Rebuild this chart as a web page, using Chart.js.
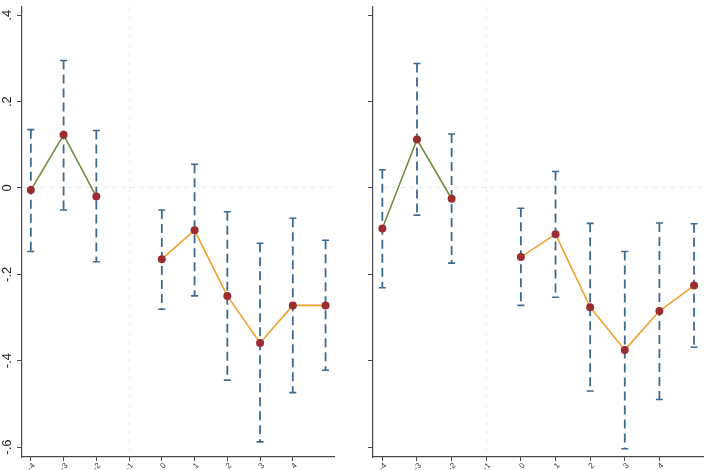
<!DOCTYPE html>
<html><head><meta charset="utf-8">
<script src="https://cdn.jsdelivr.net/npm/chart.js@4.4.1/dist/chart.umd.min.js"></script>
<style>
html,body{margin:0;padding:0;background:#fff;overflow:hidden;width:709px;height:470px;}
.box{position:absolute;top:0;height:471px;}
#b1{left:0;width:340px;}
#b2{left:348px;width:361px;}
</style></head><body>
<div class="box" id="b1"><canvas id="c1"></canvas></div>
<div class="box" id="b2"><canvas id="c2"></canvas></div>
<script>
// ---- categories / ticks ----
const preX = [-4, -3, -2];
const postX = [0, 1, 2, 3, 4, 5];
const xTickValues = [-4, -3, -2, -1, 0, 1, 2, 3, 4];
const yTickValues = [-0.6, -0.4, -0.2, 0, 0.2, 0.4];
const yTickLabels = ['-.6', '-.4', '-.2', '0', '.2', '.4'];
const refX = -1;
const refY = 0;

// ---- panel 1 (left) ----
const p1PreEst  = [-0.005, 0.123, -0.020];
const p1PreHi   = [0.135, 0.295, 0.133];
const p1PreLo   = [-0.147, -0.051, -0.171];
const p1PostEst = [-0.165, -0.098, -0.250, -0.359, -0.272, -0.272];
const p1PostHi  = [-0.051, 0.055, -0.055, -0.128, -0.070, -0.121];
const p1PostLo  = [-0.281, -0.250, -0.445, -0.588, -0.474, -0.422];

// ---- panel 2 (right) ----
const p2PreEst  = [-0.094, 0.112, -0.025];
const p2PreHi   = [0.042, 0.288, 0.125];
const p2PreLo   = [-0.231, -0.063, -0.174];
const p2PostEst = [-0.160, -0.107, -0.276, -0.375, -0.285, -0.226];
const p2PostHi  = [-0.047, 0.038, -0.082, -0.147, -0.081, -0.083];
const p2PostLo  = [-0.272, -0.253, -0.470, -0.604, -0.490, -0.369];

const GREEN = '#6f8f3e', ORANGE = '#f0a02c', RED = '#9b2d30', BLUE = '#3e6991';
const AXIS = '#4a4a4a', REF = '#e9e9e9', NONE = 'rgba(0,0,0,0)';
const FONT = '"Liberation Sans", Arial, sans-serif';

const pts = (xs, v) => xs.map((x, i) => ({x, y: v[i]}));
const whisk = (xs, lo, hi) => xs.flatMap((x, i) => [{x, y: hi[i]}, {x, y: lo[i]}, {x, y: null}]);
const caps = (xs, lo, hi) => xs.flatMap((x, i) => [{x, y: hi[i]}, {x, y: lo[i]}]);

function build(id, preEst, preLo, preHi, postEst, postLo, postHi, showYLabels, yWidth) {
  const allX = preX.concat(postX);
  const allLo = preLo.concat(postLo);
  const allHi = preHi.concat(postHi);
  new Chart(document.getElementById(id), {
    type: 'scatter',
    data: { datasets: [
      { data: pts(preX, preEst), showLine: true, borderColor: GREEN, borderWidth: 1.6,
        pointRadius: 4, pointBackgroundColor: RED, pointBorderWidth: 0, order: 0 },
      { data: pts(postX, postEst), showLine: true, borderColor: ORANGE, borderWidth: 1.6,
        pointRadius: 4, pointBackgroundColor: RED, pointBorderWidth: 0, order: 0 },
      { data: whisk(allX, allLo, allHi), showLine: true, spanGaps: false, borderColor: BLUE,
        borderWidth: 1.8, borderDash: [9, 5], pointRadius: 0, order: 2 },
      { data: caps(allX, allLo, allHi), showLine: false, pointStyle: 'line', pointRadius: 3.5,
        pointBorderColor: BLUE, pointBorderWidth: 1.6, order: 2 }
    ]},
    options: {
      responsive: true, maintainAspectRatio: false, animation: false, events: [],
      layout: { padding: { top: 7, right: 3, left: 0, bottom: 0 } },
      plugins: { legend: { display: false }, tooltip: { enabled: false } },
      scales: {
        x: {
          type: 'linear', min: -4.27, max: 5.27,
          afterBuildTicks: s => { s.ticks = xTickValues.map(v => ({value: v})); },
          afterFit: s => { s.height = 14; s.paddingLeft = 0; s.paddingRight = 0; },
          ticks: { callback: v => String(v), minRotation: 45, maxRotation: 45, autoSkip: false,
                   font: { size: 8, family: FONT }, color: '#333', padding: 0, labelOffset: 3 },
          grid: { color: c => (c.tick && c.tick.value === refX) ? REF : NONE, lineWidth: 1,
                  tickColor: AXIS, tickLength: 4, tickWidth: 1 },
          border: { color: AXIS, width: 1.2, dash: [5, 4] }
        },
        y: {
          min: -0.623, max: 0.419,
          afterBuildTicks: s => { s.ticks = yTickValues.map(v => ({value: v})); },
          afterFit: s => { s.width = yWidth; s.paddingTop = 0; s.paddingBottom = 0; },
          ticks: { display: showYLabels, autoSkip: false,
                   callback: v => { const i = yTickValues.findIndex(t => Math.abs(t - v) < 1e-9); return i >= 0 ? yTickLabels[i] : ''; },
                   minRotation: 90, maxRotation: 90, crossAlign: 'center',
                   font: { size: 13, family: FONT }, color: '#222', padding: 2 },
          grid: { color: c => (c.tick && Math.abs(c.tick.value - refY) < 1e-9) ? REF : NONE, lineWidth: 1,
                  tickColor: AXIS, tickLength: 5, tickWidth: 1 },
          border: { color: AXIS, width: 1.2, dash: [5, 4] }
        }
      }
    }
  });
}

build('c1', p1PreEst, p1PreLo, p1PreHi, p1PostEst, p1PostLo, p1PostHi, true, 22);
build('c2', p2PreEst, p2PreLo, p2PreHi, p2PostEst, p2PostLo, p2PostHi, false, 25);
</script>
</body></html>
